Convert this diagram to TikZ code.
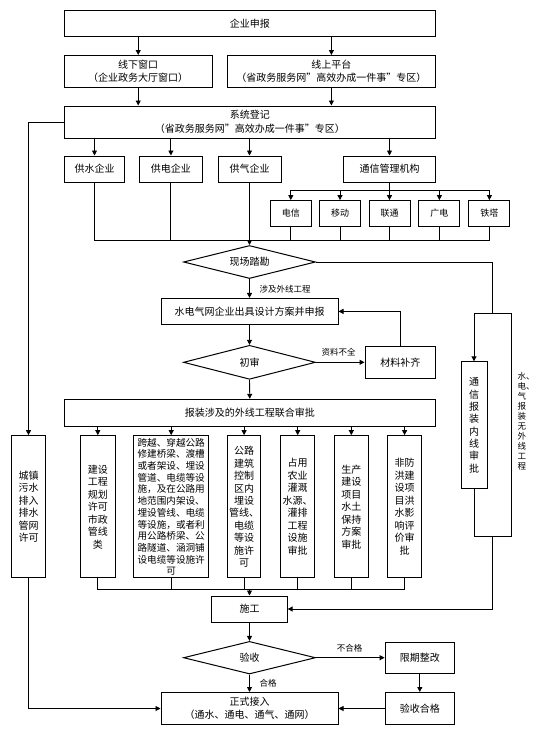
\documentclass[tikz,border=0pt]{standalone}
\usepackage{fontspec}
\setmainfont{Noto Sans CJK SC}
\usetikzlibrary{arrows.meta,shapes.geometric}
\tikzset{
  box/.style={draw, line width=1pt, rectangle, inner sep=0pt, align=center, font=\fontsize{10}{13.5}\selectfont},
  sbox/.style={box, minimum width=41pt, minimum height=25.6pt, font=\fontsize{9}{11}\selectfont},
  vbox/.style={box, minimum width=34.5pt, minimum height=142.3pt, font=\fontsize{10}{12.5}\selectfont},
  dia/.style={draw, line width=1pt, diamond, aspect=4, inner sep=0pt, minimum width=132pt, minimum height=33pt, font=\fontsize{10}{12}\selectfont},
  ln/.style={line width=0.9pt},
  arr/.style={ln, -{Triangle[length=5pt,width=5pt]}},
  lbl/.style={font=\fontsize{8.5}{10}\selectfont, inner sep=0pt}
}
\begin{document}
\begin{tikzpicture}[x=1pt,y=-1pt]
\useasboundingbox (0,0) rectangle (544,731);
% top
\node[box, minimum width=371.5pt, minimum height=26pt] (top) at (249.8,23.4) {企业申报};
\node[box, minimum width=148pt, minimum height=32pt] (xia) at (138.2,71.5) {线下窗口\\（企业政务大厅窗口）};
\node[box, minimum width=208pt, minimum height=32pt] (shang) at (331.4,71.5) {线上平台\\（省政务服务网”高效办成一件事”专区）};
\node[box, minimum width=371.5pt, minimum height=32pt] (reg) at (249.8,122) {系统登记\\（省政务服务网”高效办成一件事”专区）};
\draw[arr] (top.south -| xia.north) -- (xia.north);
\draw[arr] (top.south -| shang.north) -- (shang.north);
\draw[arr] (xia.south) -- (xia.south |- reg.north);
\draw[arr] (shang.south) -- (shang.south |- reg.north);
% enterprises
\node[box, minimum width=60.7pt, minimum height=26pt] (gs) at (94.5,169) {供水企业};
\node[box, minimum width=62.8pt, minimum height=26pt] (gd) at (170.9,169) {供电企业};
\node[box, minimum width=63pt, minimum height=26pt] (gq) at (249.5,169) {供气企业};
\node[box, minimum width=92pt, minimum height=26pt] (tx) at (389.5,169) {通信管理机构};
\foreach \n in {gs,gd,gq,tx} \draw[arr] (reg.south -| \n.north) -- (\n.north);
\node[sbox] (d1) at (290.8,213.4) {电信};
\node[sbox] (d2) at (340,213.4) {移动};
\node[sbox] (d3) at (389.5,213.4) {联通};
\node[sbox] (d4) at (439.4,213.4) {广电};
\node[sbox] (d5) at (489.4,213.4) {铁塔};
\coordinate (split) at (389.5,190);
\draw[ln] (tx.south) -- (split);
\foreach \n in {d1,d2,d3,d4,d5} \draw[arr] (split) -| (\n.north);
% site survey
\node[dia] (xc) at (249.5,262) {现场踏勘};
\coordinate (m1) at (249.5,240);
\foreach \n in {gs,gd,gq,d1,d2,d3,d4,d5} \draw[ln] (\n.south) |- (m1);
\draw[arr] (m1) -- (xc.north);
\node[box, minimum width=177pt, minimum height=26pt] (des) at (249.5,311.4) {水电气网企业出具设计方案并申报};
\draw[arr] (xc.south) -- (des.north);
\node[lbl, anchor=west] (l1) at (259.5,289.7) {涉及外线工程};
\node[dia, minimum height=34pt] (cs) at (249.5,362.3) {初审};
\draw[arr] (des.south) -- (cs.north);
\node[box, minimum width=70.5pt, minimum height=32pt] (bc) at (400.3,362.3) {材料补齐};
\draw[arr] (cs.east) -- (bc.west);
\node[lbl] (l2) at (338.5,352) {资料不全};
\draw[arr] (bc.north) |- (des.east);
\node[box, minimum width=371.3pt, minimum height=26.7pt] (jb) at (249.8,412.7) {报装涉及的外线工程联合审批};
\draw[arr] (cs.south) -- (jb.north);
% approvals
\node[vbox] (cz) at (28.5,506.8) {城镇\\污水\\排入\\排水\\管网\\许可};
\node[vbox] (js) at (97.8,506.8) {建设\\工程\\规划\\许可\\市政\\管线\\类};
\node[vbox, minimum width=75.3pt, font=\fontsize{9.6}{11.7}\selectfont] (ky) at (171.2,506.8) {跨越、穿越公路\\修建桥梁、渡槽\\或者架设、埋设\\管道、电缆等设\\施，及在公路用\\地范围内架设、\\埋设管线、电缆\\等设施，或者利\\用公路桥梁、公\\路隧道、涵洞铺\\设电缆等设施许\\可};
\node[vbox, minimum width=33.6pt, font=\fontsize{10}{12.4}\selectfont] (gl) at (244.1,506.8) {公路\\建筑\\控制\\区内\\埋设\\管线、\\电缆\\等设\\施许\\可};
\node[vbox] (zy) at (297.7,506.8) {占用\\农业\\灌溉\\水源、\\灌排\\工程\\设施\\审批};
\node[vbox] (sc) at (351.3,506.8) {生产\\建设\\项目\\水土\\保持\\方案\\审批};
\node[vbox] (ff) at (404.6,506.8) {非防\\洪建\\设项\\目洪\\水影\\响评\\价审\\批};
\foreach \n in {js,ky,gl,zy,sc,ff} \draw[arr] (jb.south -| \n.north) -- (\n.north);
\draw[arr] (reg.west) -| (cz.north);
% construction
\node[box, minimum width=75.3pt, minimum height=26pt] (sg) at (249.5,609) {施工};
\coordinate (m2) at (249.5,589);
\foreach \n in {js,ky,gl,zy,sc,ff} \draw[ln] (\n.south) |- (m2);
\draw[arr] (m2) -- (sg.north);
% telecom inner line
\node[box, minimum width=26pt, minimum height=127pt, font=\fontsize{10}{12.3}\selectfont] (tn) at (474,425.3) {通\\信\\报\\装\\内\\线\\审\\批};
\coordinate (jr) at (492.7,313.3);
\coordinate (rb) at (511.8,536.2);
\coordinate (jbt) at (492.7,536.2);
\draw[ln] (xc.east) -| (jr);
\draw[arr] (jr) -| (tn.north);
\draw[ln] (jr) -| (rb) -- (jbt);
\draw[ln] (tn.south) |- (jbt);
\draw[arr] (jbt) |- (sg.east);
\node[lbl, align=left] (l3) at (526,421) {水、\\电、\\气\\报\\装\\无\\外\\线\\工\\程};
% acceptance
\node[dia, minimum height=32.6pt] (ys) at (249.5,657.7) {验收};
\draw[arr] (sg.south) -- (ys.north);
\node[box, minimum width=69.3pt, minimum height=31.3pt] (xq) at (419.8,657.7) {限期整改};
\node[box, minimum width=69.3pt, minimum height=32pt] (yh) at (419.8,708.5) {验收合格};
\node[box, minimum width=177pt, minimum height=32pt] (zs) at (249.5,708.5) {正式接入\\（通水、通电、通气、通网）};
\draw[arr] (ys.east) -- (xq.west);
\node[lbl] (l4) at (349.5,648.3) {不合格};
\draw[arr] (xq.south) -- (yh.north);
\draw[arr] (yh.west) -- (zs.east);
\draw[arr] (ys.south) -- (zs.north);
\node[lbl, anchor=west] (l5) at (259.5,683) {合格};
\draw[arr] (cz.south) |- (zs.west);
\end{tikzpicture}
\end{document}
